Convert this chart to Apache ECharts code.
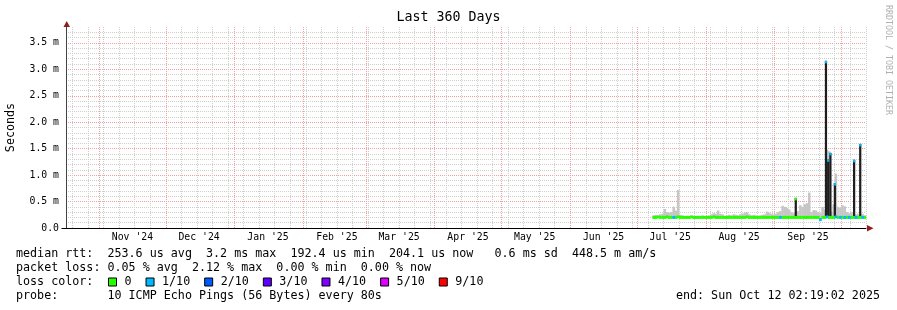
<!DOCTYPE html>
<html><head><meta charset="utf-8">
<script src="https://cdn.jsdelivr.net/npm/echarts@6/dist/echarts.min.js"></script>
<style>html,body{margin:0;padding:0;background:#fff}#c{width:897px;height:310px}</style>
</head><body><div id="c"></div>
<script>
// ---------- data ----------
const graphStart = '2024-10-17 02:19:02';
const graphEnd   = '2025-10-12 02:19:02';
const dataStartDay = '2025-07-08';   // first day with measurements

// daily median rtt (ms), Jul 8 .. Oct 11 2025
const medianVals = [
  // Jul 8-31
  0.20,0.20,0.21,0.20,0.20,0.20,0.21,0.20,0.20,0.20,0.20,0.21,0.20,0.20,0.20,0.20,0.20,0.21,0.20,0.20,0.20,0.20,0.20,0.20,
  // Aug
  0.20,0.20,0.20,0.21,0.20,0.20,0.20,0.20,0.20,0.20,0.20,0.20,0.20,0.20,0.20,0.20,0.20,0.20,0.21,0.20,0.20,0.20,0.20,0.20,0.20,0.20,0.20,0.20,0.20,0.20,0.20,
  // Sep
  0.20,0.20,0.20,0.20,0.20,0.20,0.20,0.20,0.20,0.20,0.20,0.20,0.20,0.20,0.20,0.20,0.20,0.20,0.20,0.20,0.16,0.20,0.20,0.21,0.20,0.20,0.20,0.21,0.20,0.20,
  // Oct 1-11
  0.20,0.20,0.20,0.20,0.20,0.20,0.20,0.20,0.20,0.20,0.20
];
// lost pings out of 10 (daily)
const lossCounts = [
  0,0,0,0,0,0,0,0,0,1,0,0,0,0,0,0,0,0,0,0,0,0,0,0,
  0,0,0,0,0,0,0,0,0,0,0,0,0,0,0,0,0,0,0,0,0,0,0,0,0,0,0,0,0,0,0,
  0,0,1,0,0,0,0,0,0,0,0,0,0,0,0,0,0,0,0,0,1,0,0,1,0,0,0,1,0,1,
  0,1,0,1,0,0,1,0,0,1,0
];
// upper edge of the grey smoke (ms)
const smokeTops = [
  0.24,0.25,0.23,0.26,0.27,0.36,0.30,0.29,0.30,0.40,0.33,0.72,0.25,0.24,0.22,0.23,0.22,0.23,0.22,0.22,0.23,0.22,0.24,0.22,
  0.22,0.24,0.26,0.28,0.27,0.33,0.27,0.26,0.23,0.24,0.25,0.24,0.26,0.25,0.24,0.26,0.27,0.29,0.30,0.26,0.24,0.25,0.24,0.23,0.24,0.25,0.26,0.31,0.29,0.27,0.26,
  0.27,0.30,0.32,0.42,0.40,0.38,0.35,0.30,0.28,0.30,0.32,0.43,0.40,0.45,0.47,0.67,0.30,0.34,0.33,0.30,0.28,0.40,0.35,1.48,1.45,0.31,0.45,1.03,0.40,0.38,
  0.43,0.41,0.30,0.28,0.30,0.27,0.26,0.27,0.25,0.27,0.24
];
// dark spikes: [time, top (ms), lost pings]
const spikeTimes  = ['2025-09-10 00:00','2025-09-23 14:00','2025-09-24 14:00','2025-09-25 14:00','2025-09-27 14:00','2025-10-06 06:00','2025-10-09 00:00'];
const spikeValues = [0.57, 3.16, 1.30, 1.42, 0.85, 1.29, 1.59];
const spikeLoss   = [0, 1, 1, 1, 1, 1, 1];

const lossLevels = ['0','1/10','2/10','3/10','4/10','5/10','9/10'];
const lossColors = ['#26ff00','#00b8ff','#0059ff','#5e00ff','#7e00ff','#dd00ff','#ff0000'];

const monthGridDates  = ['2024-11-01','2024-12-01','2025-01-01','2025-02-01','2025-03-01','2025-04-01','2025-05-01','2025-06-01','2025-07-01','2025-08-01','2025-09-01','2025-10-01'];
const monthLabelDates = ['2024-11-16','2024-12-16','2025-01-16','2025-02-16','2025-03-16','2025-04-16','2025-05-16','2025-06-16','2025-07-16','2025-08-16','2025-09-16'];
const monthLabels     = ["Nov '24","Dec '24","Jan '25","Feb '25","Mar '25","Apr '25","May '25","Jun '25","Jul '25","Aug '25","Sep '25"];
const yTickValues = [0, 0.5, 1.0, 1.5, 2.0, 2.5, 3.0, 3.5];
const yTickLabels = ['0.0','0.5 m','1.0 m','1.5 m','2.0 m','2.5 m','3.0 m','3.5 m'];
const firstWeekGrid = '2024-10-20';

// ---------- helpers ----------
const DAY = 86400000;
function ts(s){
  const [d, t = '00:00:00'] = s.split(' ');
  const [Y, M, D] = d.split('-').map(Number);
  const [h, m, sec = 0] = t.split(':').map(Number);
  return Date.UTC(Y, M - 1, D, h, m, sec);
}
const START = ts(graphStart), END = ts(graphEnd);
const day0 = ts(dataStartDay);
const dayTs = medianVals.map((_, i) => day0 + i * DAY);
const weekGrid = [];
for (let s = ts(firstWeekGrid); s < END; s += 7 * DAY) weekGrid.push(s);
const monthGrid = monthGridDates.map(ts);
const labelTs = monthLabelDates.map(ts);
const labelMap = {}; labelTs.forEach((t, i) => labelMap[t] = monthLabels[i]);
const yLabelMap = {}; yTickValues.forEach((v, i) => yLabelMap[v] = yTickLabels[i]);
const minorY = []; for (let k = 1; k < 38; k++) if (k % 5) minorY.push(k / 10);
const majorY = yTickValues.filter(v => v > 0);
function lossLevel(c){ return c <= 4 ? c : (c <= 8 ? 5 : 6); }
function medianAt(t){ const i = Math.max(0, Math.min(medianVals.length - 1, Math.floor((t - day0) / DAY))); return medianVals[i]; }

const MONO = '"DejaVu Sans Mono", monospace';

function bandRender(params, api){
  const t = api.value(0), v = api.value(1);
  const a = api.coord([t, v]), b = api.coord([t + DAY, v]);
  return { type: 'rect', shape: { x: a[0], y: a[1] - 1.5, width: b[0] - a[0] + 0.4, height: 3 },
           style: { fill: api.visual('color') } };
}

const series = [];
// smoke
series.push({
  type: 'custom', name: 'smoke', xAxisIndex: 2, yAxisIndex: 1, silent: true,
  data: dayTs.map((t, i) => [t, smokeTops[i], medianVals[i]]),
  renderItem(params, api){
    const t = api.value(0);
    const a = api.coord([t, api.value(1)]), b = api.coord([t + DAY, api.value(2)]);
    return { type: 'rect', shape: { x: a[0], y: a[1], width: b[0] - a[0] + 0.3, height: b[1] - a[1] },
             style: { fill: '#c6c6c6' } };
  }
});
// dark spikes
series.push({
  type: 'custom', name: 'spikes', xAxisIndex: 2, yAxisIndex: 1, silent: true,
  data: spikeTimes.map((d, i) => [ts(d), spikeValues[i], medianAt(ts(d))]),
  renderItem(params, api){
    const t = api.value(0);
    const a = api.coord([t, api.value(1)]), b = api.coord([t + DAY, api.value(2)]);
    return { type: 'rect', shape: { x: a[0], y: a[1], width: b[0] - a[0], height: b[1] - a[1] },
             style: { fill: '#1e1e1e' } };
  }
});
// median line coloured by loss
lossLevels.forEach((name, L) => {
  series.push({
    type: 'custom', name, xAxisIndex: 2, yAxisIndex: 1, silent: true,
    itemStyle: { color: lossColors[L] },
    data: dayTs.map((t, i) => lossLevel(lossCounts[i]) === L ? [t, medianVals[i]] : null).filter(Boolean),
    renderItem: bandRender
  });
});
// caps on spikes
series.push({
  type: 'custom', name: 'caps', xAxisIndex: 2, yAxisIndex: 1, silent: true,
  data: spikeTimes.map((d, i) => [ts(d), spikeValues[i], lossLevel(spikeLoss[i])]),
  renderItem(params, api){
    const t = api.value(0), v = api.value(1);
    const a = api.coord([t, v]), b = api.coord([t + DAY, v]);
    return { type: 'rect', shape: { x: a[0], y: a[1], width: b[0] - a[0], height: 2.5 },
             style: { fill: lossColors[api.value(2)] } };
  }
});

const hiddenAxisBits = { axisLine: { show: false }, axisLabel: { show: false } };
const option = {
  backgroundColor: '#ffffff',
  animation: false,
  title: { text: 'Last 360 Days', left: 'center', top: 11, padding: 0,
           textStyle: { fontFamily: MONO, fontSize: 13.3, fontWeight: 'normal', color: '#000' } },
  grid: { left: 66, right: 31, top: 27, bottom: 82, containLabel: false, outerBoundsMode: 'none' },
  legend: {
    data: lossLevels, left: 108, top: 276, icon: 'rect', itemWidth: 8, itemHeight: 8, itemGap: 14,
    selectedMode: false, padding: 0,
    itemStyle: { borderColor: '#000', borderWidth: 1 },
    textStyle: { fontFamily: MONO, fontSize: 11.7, color: '#000', padding: [0, 0, 0, 3] }
  },
  xAxis: [
    { type: 'value', min: START, max: END, position: 'bottom', ...hiddenAxisBits,
      axisTick: { show: false, customValues: weekGrid },
      splitLine: { show: true, lineStyle: { color: '#cfcfcf', width: 1, type: [1, 1] } } },
    { type: 'value', min: START, max: END, position: 'bottom', ...hiddenAxisBits,
      axisTick: { show: false, customValues: monthGrid },
      splitLine: { show: true, lineStyle: { color: '#f0a0a0', width: 1, type: [1, 1] } } },
    { type: 'value', min: START, max: END, position: 'bottom',
      axisLine: { show: true, lineStyle: { color: '#000', width: 1 } },
      axisTick: { show: false },
      splitLine: { show: false },
      axisLabel: { customValues: labelTs, margin: 4, formatter: v => labelMap[v] || '',
                   fontFamily: MONO, fontSize: 9.8, color: '#000' } }
  ],
  yAxis: [
    { type: 'value', min: 0, max: 3.8, position: 'left', ...hiddenAxisBits,
      axisTick: { show: false, customValues: minorY },
      splitLine: { show: true, lineStyle: { color: '#cfcfcf', width: 1, type: [1, 1] } } },
    { type: 'value', min: 0, max: 3.8, position: 'left',
      name: 'Seconds', nameLocation: 'middle', nameGap: 49, nameRotate: 90,
      nameTextStyle: { fontFamily: MONO, fontSize: 11.7, color: '#000' },
      axisLine: { show: true, lineStyle: { color: '#444', width: 1 } },
      axisTick: { show: false, customValues: majorY },
      splitLine: { show: true, lineStyle: { color: '#f0a0a0', width: 1, type: [1, 1] } },
      axisLabel: { customValues: yTickValues, margin: 7, formatter: v => yLabelMap[v] || '',
                   fontFamily: MONO, fontSize: 9.8, color: '#000' } }
  ],
  graphic: [
    { type: 'polygon', shape: { points: [[63.5, 27], [70, 27], [66.7, 21]] }, style: { fill: '#931d1d' } },
    { type: 'polygon', shape: { points: [[867, 225], [867, 231.5], [873.5, 228.3]] }, style: { fill: '#931d1d' } },
    { type: 'line', shape: { x1: 61.5, y1: 228.5, x2: 66, y2: 228.5 }, style: { stroke: '#000', lineWidth: 1 } },
    { type: 'text', x: 888, y: 5, rotation: -Math.PI / 2,
      style: { text: 'RRDTOOL / TOBI OETIKER', font: '8.3px ' + MONO, fill: '#b0b0b0', align: 'left', verticalAlign: 'middle' } },
    { type: 'text', x: 16, y: 254, style: { text: 'median rtt:  253.6 us avg  3.2 ms max  192.4 us min  204.1 us now   0.6 ms sd  448.5 m am/s', font: '11.7px ' + MONO, fill: '#000', verticalAlign: 'middle' } },
    { type: 'text', x: 16, y: 268, style: { text: 'packet loss: 0.05 % avg  2.12 % max  0.00 % min  0.00 % now', font: '11.7px ' + MONO, fill: '#000', verticalAlign: 'middle' } },
    { type: 'text', x: 16, y: 282, style: { text: 'loss color:', font: '11.7px ' + MONO, fill: '#000', verticalAlign: 'middle' } },
    { type: 'text', x: 16, y: 296, style: { text: 'probe:       10 ICMP Echo Pings (56 Bytes) every 80s', font: '11.7px ' + MONO, fill: '#000', verticalAlign: 'middle' } },
    { type: 'text', x: 880, y: 296, style: { text: 'end: Sun Oct 12 02:19:02 2025', font: '11.7px ' + MONO, fill: '#000', align: 'right', verticalAlign: 'middle' } }
  ],
  series
};
const chart = echarts.init(document.getElementById('c'), null, { renderer: 'canvas' });
chart.setOption(option);
</script>
</body></html>
